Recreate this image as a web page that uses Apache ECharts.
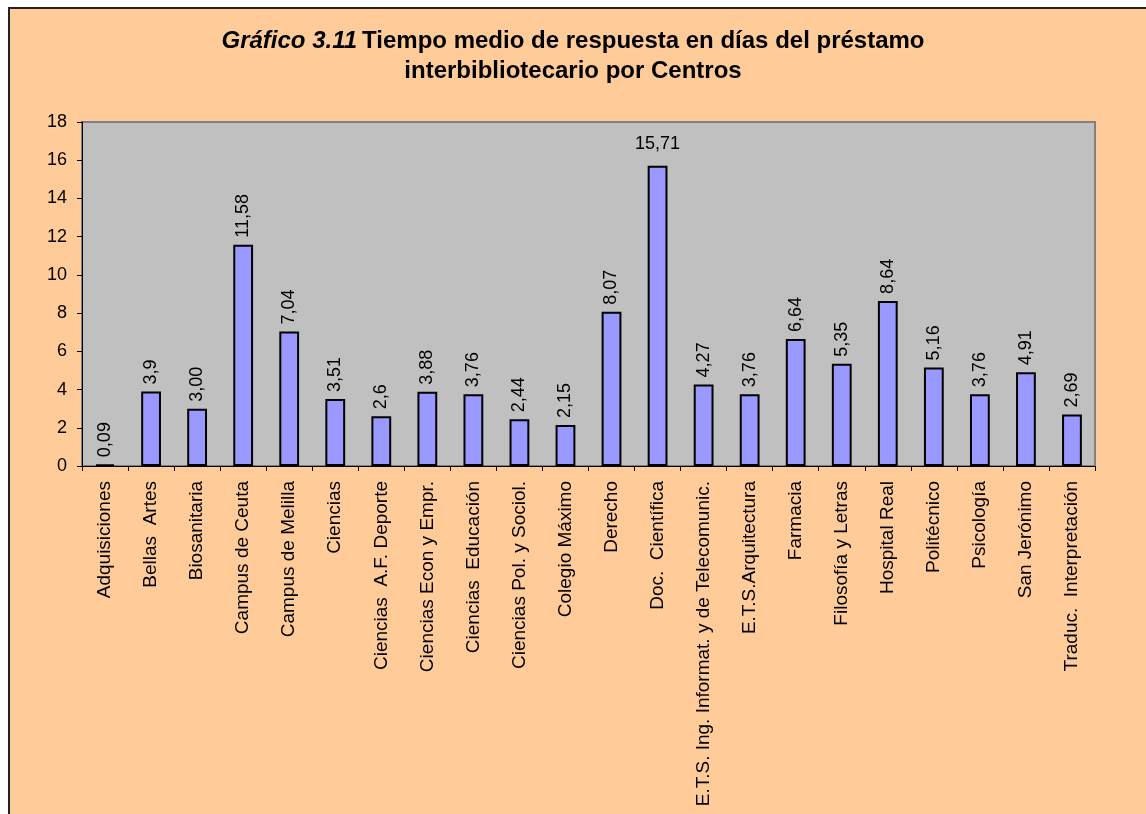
<!DOCTYPE html>
<html>
<head>
<meta charset="utf-8">
<script src="https://cdn.jsdelivr.net/npm/echarts@6/dist/echarts.min.js"></script>
<style>
    html, body { margin: 0; padding: 0; background: #fff; }
    #frame {
        position: absolute; left: 8px; top: 7px; width: 1140px; height: 809px;
        background: #FFCC99; border-top: 2px solid #222; border-left: 2px solid #222;
    }
    #chart { position: absolute; left: 0; top: 0; width: 1146px; height: 814px; }
</style>
</head>
<body>
<div id="frame"></div>
<div id="chart"></div>
<script>
const categories = [
    'Adquisiciones', 'Bellas  Artes', 'Biosanitaria', 'Campus de Ceuta', 'Campus de Melilla',
    'Ciencias', 'Ciencias  A.F. Deporte', 'Ciencias Econ y Empr.', 'Ciencias  Educación',
    'Ciencias Pol. y Sociol.', 'Colegio Máximo', 'Derecho', 'Doc.  Científica',
    'E.T.S. Ing. Informat. y de Telecomunic.', 'E.T.S.Arquitectura', 'Farmacia',
    'Filosofía y Letras', 'Hospital Real', 'Politécnico', 'Psicología', 'San Jerónimo',
    'Traduc.  Interpretación'
]
const values = [0.09, 3.9, 3.00, 11.58, 7.04, 3.51, 2.6, 3.88, 3.76, 2.44, 2.15, 8.07, 15.71,
    4.27, 3.76, 6.64, 5.35, 8.64, 5.16, 3.76, 4.91, 2.69]
const valueLabels = ['0,09', '3,9', '3,00', '11,58', '7,04', '3,51', '2,6', '3,88', '3,76', '2,44',
    '2,15', '8,07', '15,71', '4,27', '3,76', '6,64', '5,35', '8,64', '5,16', '3,76', '4,91', '2,69']
// labels drawn horizontally (Excel could not fit them rotated)
const flatLabels = ['Doc.  Científica']

const font = '"Liberation Sans", Arial, sans-serif'
const chart = echarts.init(document.getElementById('chart'))

const seriesData = values.map((v, i) => {
    const item = { value: v }
    if (flatLabels.indexOf(categories[i]) >= 0) {
        item.label = { rotate: 0, align: 'center', verticalAlign: 'bottom', distance: 13 }
    }
    return item
})

const option = {
    backgroundColor: 'transparent',
    animation: false,
    title: {
        text: '{i|Gráfico 3.11} {b|Tiempo medio de respuesta en días del préstamo}\n{b|interbibliotecario por Centros}',
        left: 'center',
        top: 21,
        textStyle: {
            rich: {
                i: { fontFamily: font, fontSize: 24, fontWeight: 'bold', fontStyle: 'italic', color: '#000', lineHeight: 30 },
                b: { fontFamily: font, fontSize: 24, fontWeight: 'bold', color: '#000', lineHeight: 30 }
            }
        }
    },
    grid: {
        left: 82,
        top: 122,
        width: 1013,
        height: 344,
        show: true,
        backgroundColor: '#C0C0C0',
        borderColor: '#808080',
        borderWidth: 2
    },
    xAxis: {
        type: 'category',
        data: categories,
        axisLine: { show: true, lineStyle: { color: '#000', width: 1 } },
        axisTick: { show: true, length: 5, lineStyle: { color: '#000' } },
        axisLabel: {
            interval: 0,
            rotate: 90,
            margin: 15,
            color: '#000',
            fontFamily: font,
            fontSize: 19
        }
    },
    yAxis: {
        type: 'value',
        min: 0,
        max: 18,
        interval: 2,
        splitLine: { show: false },
        axisLine: { show: true, lineStyle: { color: '#000', width: 1 } },
        axisTick: { show: true, length: 5, lineStyle: { color: '#000' } },
        axisLabel: {
            margin: 15,
            color: '#000',
            fontFamily: font,
            fontSize: 18
        }
    },
    series: [{
        type: 'bar',
        data: seriesData,
        barCategoryGap: '57%',
        itemStyle: {
            color: '#9999FF',
            borderColor: '#000',
            borderWidth: 2
        },
        label: {
            show: true,
            position: 'top',
            rotate: 90,
            align: 'left',
            verticalAlign: 'middle',
            distance: 7,
            color: '#000',
            fontFamily: font,
            fontSize: 18,
            formatter(params) {
                return valueLabels[params.dataIndex]
            }
        }
    }]
}
chart.setOption(option)
</script>
</body>
</html>
